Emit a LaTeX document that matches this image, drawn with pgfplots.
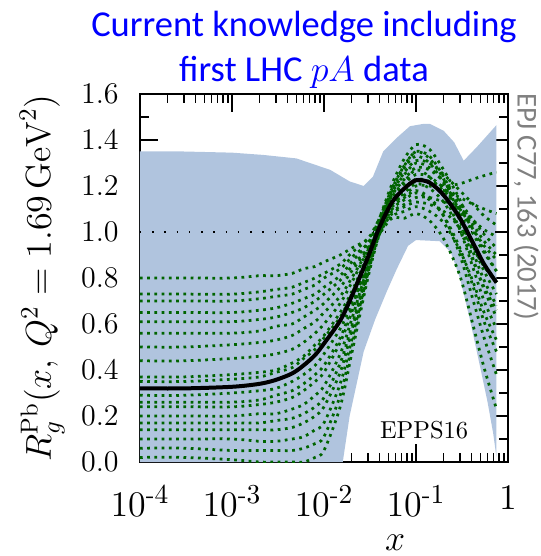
\documentclass[border=0pt]{standalone}
\usepackage{amsmath}
\usepackage{fontspec}
\usepackage{pgfplots}
\usepackage{pgfplotstable}
\pgfplotsset{compat=1.18}
\newfontfamily\carlito{Carlito}
\definecolor{bandblue}{RGB}{176,196,222}
\definecolor{setgreen}{RGB}{0,100,0}
\definecolor{epjgray}{RGB}{128,128,128}

% central fit (c) and the error sets (e1..e19)
\pgfplotstableread{
x      c     e1   e2   e3   e4   e5   e6   e7   e8    e9   e10  e11  e12  e13  e14  e15  e16  e17  e18  e19
1e-4   0.32  0.80 0.73 0.70 0.65 0.61 0.56 0.50 0.44  0.37 0.35 0.29 0.26 0.24 0.20 0.17 0.14 0.10 0.06 0.02
3e-4   0.32  0.80 0.73 0.70 0.65 0.61 0.56 0.50 0.44  0.37 0.35 0.29 0.26 0.24 0.20 0.17 0.14 0.10 0.06 0.02
1e-3   0.327 0.80 0.73 0.70 0.65 0.61 0.56 0.51 0.45  0.38 0.36 0.30 0.26 0.24 0.20 0.17 0.14 0.10 0.05 0.01
2e-3   0.34  0.81 0.74 0.71 0.66 0.62 0.57 0.52 0.46  0.39 0.37 0.31 0.27 0.25 0.21 0.17 0.14 0.09 0.05 0.00
3e-3   0.357 0.81 0.75 0.72 0.67 0.63 0.59 0.53 0.47  0.40 0.39 0.32 0.29 0.26 0.21 0.18 0.14 0.09 0.05 0.00
4.5e-3 0.385 0.82 0.76 0.73 0.69 0.65 0.60 0.55 0.49  0.43 0.41 0.35 0.31 0.28 0.23 0.19 0.15 0.10 0.05 0.00
6e-3   0.42  0.84 0.78 0.75 0.71 0.67 0.63 0.58 0.52  0.46 0.45 0.38 0.34 0.31 0.25 0.21 0.17 0.11 0.06 0.00
8e-3   0.465 0.85 0.80 0.77 0.73 0.70 0.66 0.61 0.56  0.51 0.49 0.42 0.38 0.35 0.29 0.24 0.20 0.14 0.08 0.02
0.01   0.515 0.87 0.82 0.80 0.76 0.73 0.69 0.65 0.60  0.55 0.54 0.47 0.42 0.39 0.33 0.28 0.24 0.17 0.11 0.05
0.015  0.615 0.90 0.86 0.84 0.81 0.79 0.76 0.72 0.69  0.65 0.63 0.58 0.54 0.52 0.47 0.43 0.39 0.34 0.29 0.24
0.02   0.72  0.93 0.91 0.89 0.87 0.85 0.83 0.80 0.78  0.74 0.73 0.69 0.67 0.65 0.62 0.59 0.57 0.53 0.50 0.47
0.03   0.89  0.97 0.97 0.95 0.95 0.93 0.93 0.92 0.92  0.90 0.89 0.89 0.87 0.87 0.85 0.85 0.84 0.82 0.82 0.80
0.04   1.02  1.04 1.06 1.02 1.06 1.01 1.04 1.02 1.02  1.02 0.99 1.04 1.01 1.02 0.99 1.03 1.01 0.99 1.01 0.99
0.055  1.13  1.16 1.19 1.09 1.21 1.07 1.17 1.11 1.13  1.13 1.06 1.18 1.12 1.15 1.08 1.19 1.14 1.10 1.17 1.12
0.075  1.19  1.23 1.29 1.12 1.32 1.09 1.26 1.15 1.19  1.19 1.06 1.28 1.16 1.22 1.11 1.29 1.21 1.14 1.25 1.17
0.1    1.225 1.28 1.35 1.15 1.38 1.11 1.31 1.18 1.22  1.23 1.08 1.33 1.20 1.27 1.13 1.35 1.25 1.17 1.30 1.21
0.14   1.215 1.27 1.32 1.15 1.36 1.09 1.30 1.15 1.22  1.22 1.05 1.30 1.20 1.24 1.12 1.33 1.24 1.14 1.28 1.19
0.2    1.16  1.22 1.23 1.13 1.27 1.04 1.25 1.07 1.20  1.18 0.97 1.21 1.18 1.16 1.09 1.24 1.19 1.07 1.22 1.13
0.3    1.06  1.13 1.07 1.10 1.14 0.92 1.18 0.90 1.21  1.10 0.81 1.05 1.15 1.01 1.02 1.09 1.11 0.93 1.11 1.01
0.42   0.95  1.05 0.91 1.05 1.01 0.78 1.12 0.70 1.23  1.01 0.59 0.88 1.12 0.84 0.93 0.94 1.03 0.76 0.99 0.87
0.55   0.86  0.99 0.79 1.01 0.92 0.65 1.07 0.54 1.245 0.94 0.41 0.75 1.10 0.70 0.85 0.83 0.96 0.61 0.91 0.76
0.75   0.78  0.93 0.68 0.98 0.83 0.53 1.03 0.38 1.26  0.88 0.23 0.63 1.08 0.58 0.78 0.73 0.90 0.48 0.83 0.66
}\eppsdata

\begin{document}
\begin{tikzpicture}
\begin{axis}[
  scale only axis,
  width=147.2pt, height=147.2pt,
  clip mode=individual,
  xmode=log,
  xmin=1e-4, xmax=1,
  ymin=0, ymax=1.6,
  xtick={1e-4,1e-3,1e-2,1e-1,1},
  xticklabels={$10^{\text{-}4}$,$10^{\text{-}3}$,$10^{\text{-}2}$,$10^{\text{-}1}$,$1$},
  ytick={0,0.2,0.4,0.6,0.8,1.0,1.2,1.4,1.6},
  minor y tick num=1,
  y tick label style={/pgf/number format/fixed,
    /pgf/number format/fixed zerofill,
    /pgf/number format/precision=1},
  xticklabel style={font=\fontsize{15}{17}\selectfont, yshift=-6pt},
  yticklabel style={font=\fontsize{12.5}{15}\selectfont, xshift=-5pt},
  major tick length=7.2pt,
  minor tick length=3.8pt,
  axis line style={line width=0.6pt},
  every tick/.style={black, line width=0.6pt},
  ylabel={$R_g^{\mathrm{Pb}}(x,\,Q^2=1.69\,\mathrm{GeV}^2)$},
  ylabel style={font=\fontsize{14}{16}\selectfont,
    at={(axis description cs:-0.266,0.5)}, anchor=center},
  errset/.style={setgreen, line width=1.1pt,
    dash pattern=on 1.1pt off 1.8pt, smooth},
]

% uncertainty band (upper edge left to right, lower edge back)
\addplot[fill=bandblue, draw=none] coordinates {
  (1e-4,1.35) (3e-4,1.35) (1e-3,1.345) (2.2e-3,1.335) (5e-3,1.32)
  (0.0117,1.27) (0.019,1.22) (0.027,1.20) (0.034,1.24) (0.044,1.35)
  (0.062,1.41) (0.086,1.46) (0.12,1.47) (0.142,1.47) (0.2,1.44)
  (0.26,1.39) (0.33,1.31) (0.46,1.37) (0.75,1.465)
  (0.75,0.02) (0.69,0.125) (0.6,0.26) (0.5,0.41) (0.38,0.63)
  (0.3,0.80) (0.24,0.91) (0.18,0.96) (0.1,0.965) (0.082,0.94)
  (0.062,0.84) (0.048,0.74) (0.036,0.62) (0.027,0.48) (0.019,0.20)
  (0.016,0.0) (1e-4,0.0)
} -- cycle;

\addplot[black, line width=0.6pt, dash pattern=on 0.6pt off 4.3pt]
  coordinates {(1e-4,1) (1,1)};

\pgfplotsinvokeforeach{1,...,19}{
  \addplot[errset] table[x=x, y=e#1] {\eppsdata};
}

\addplot[black, line width=1.6pt, smooth] table[x=x, y=c] {\eppsdata};

\node[font=\fontsize{9.8}{12}\selectfont] at (rel axis cs:0.772,0.087) {EPPS16};

\node[anchor=base, font=\fontsize{14}{16}\selectfont, inner sep=0pt]
  at (axis description cs:0.693,-0.24) {$x$};

\node[anchor=base, text=blue, font=\carlito\fontsize{14.6}{17}\selectfont]
  at (axis description cs:0.4457,1.1576) {Current knowledge including};
\node[anchor=base, text=blue, font=\carlito\fontsize{14.6}{17}\selectfont]
  at (axis description cs:0.4457,1.0353) {first LHC $pA$ data};

\node[rotate=-90, anchor=west, text=epjgray, inner sep=0pt,
  font=\carlito\fontsize{11.5}{14}\selectfont]
  at (axis description cs:1.049,1.003) {EPJ C77, 163 (2017)};

\coordinate (O) at (rel axis cs:0,0);
\end{axis}
\pgfresetboundingbox
\path (O) ++(-56pt,-37.6pt) rectangle ++(216.4pt,222.4pt);
\end{tikzpicture}
\end{document}
